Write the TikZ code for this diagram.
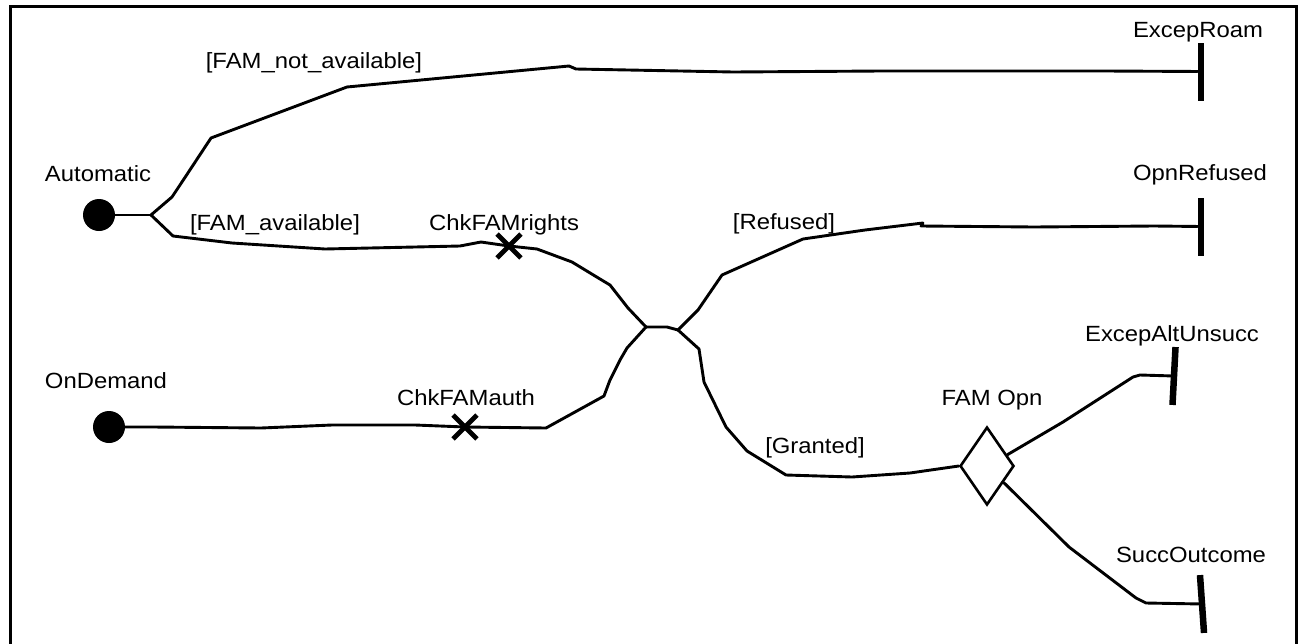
\documentclass[tikz,border=0pt]{standalone}
\usepackage{fontspec}
\setmainfont{Liberation Sans}
\usetikzlibrary{shapes.geometric,shapes.misc,calc}

\begin{document}
\begin{tikzpicture}[x=1pt,y=-1pt,
  ucm/.style={line width=2.9pt,line join=round,line cap=round},
  frame/.style={line width=3pt},
  lbl/.style={anchor=base,inner sep=0pt,font=\fontsize{22}{26}\selectfont,xscale=1.085},
  startpt/.style={circle,fill=black,minimum size=32pt,inner sep=0pt},
  endbar/.style={rectangle,fill=black,minimum width=6.5pt,minimum height=58pt,inner sep=0pt},
  resp/.style={cross out,draw,line width=4.8pt,minimum size=19pt,inner sep=0pt},
  stub/.style={diamond,draw,line width=2.6pt,minimum width=54pt,minimum height=78pt,inner sep=0pt}]

\useasboundingbox (0,0) rectangle (1298,643);

% outer frame
\draw[frame] (10,660) -- (10,6) -- (1296,6) -- (1296,660);

% start points
\node[startpt] (auto) at (99,215) {};
\node[startpt] (ondem) at (109,427) {};

% responsibilities
\node[resp] (rights) at (509,246) {};
\node[resp] (auth) at (465,427) {};

% stub
\node[stub] (fam) at (987,466) {};

% end points
\node[endbar] (roam) at (1201,71.5) {};
\node[endbar] (refused) at (1201,226.5) {};
\node[endbar,rotate=-3] (altuns) at (1174,376) {};
\node[endbar,rotate=4] (succ) at (1202,604) {};

% forks and joins
\coordinate (forkA) at (151,215);
\coordinate (joinL) at (646,327);
\coordinate (joinR) at (678,330);

% labels
\node[lbl] (lauto) at (98,181) {Automatic};
\node[lbl] (londem) at (106,388) {OnDemand};
\node[lbl] (lnotav) at (314,68) {[FAM\_not\_available]};
\node[lbl] (lav) at (275,230) {[FAM\_available]};
\node[lbl] (lrights) at (504,230) {ChkFAMrights};
\node[lbl] (lauth) at (466,405) {ChkFAMauth};
\node[lbl] (lroam) at (1198,37) {ExcepRoam};
\node[lbl] (lrefused) at (1200,180) {OpnRefused};
\node[lbl] (lref) at (784,229) {[Refused]};
\node[lbl] (lgrant) at (815,453) {[Granted]};
\node[lbl] (lfam) at (992,405) {FAM Opn};
\node[lbl] (laltuns) at (1172,341) {ExcepAltUnsucc};
\node[lbl] (lsucc) at (1191,562) {SuccOutcome};

% paths
\draw[ucm] (auto) -- (forkA);
\draw[ucm] (forkA) -- (172,197) -- (180,185) -- (211,138) -- (347,87)
  -- (569,66) -- (576,69) -- (733,72) -- (881,71) -- (1105,71) -- (roam);
\draw[ucm] (forkA) -- (173,236) -- (232,243) -- (325,249) -- (460,246)
  -- (481,242) -- (rights.center) -- (537,249) -- (572,262) -- (600,279)
  -- (610,285) -- (628,308) -- (joinL);
\draw[ucm] (ondem) -- (153,427) -- (261,428) -- (332,425) -- (415,425)
  -- (auth.center) -- (546,428) -- (604,396) -- (610,380) -- (620,360)
  -- (627,348) -- (joinL);
\draw[ucm] (joinL) -- (667,327) -- (joinR);
\draw[ucm] (joinR) -- (698,310) -- (722,275) -- (803,239) -- (865,230)
  -- (923,223) -- (921,226) -- (1034,227) -- (1154,226) -- (refused);
\draw[ucm] (joinR) -- (699,349) -- (704,382) -- (726,427) -- (747,451)
  -- (786,475) -- (852,477) -- (910,473) -- (fam.west);
\draw[ucm] ($(fam.east)!0.28!(fam.north)$) -- (1063,422) -- (1133,377)
  -- (1140,375) -- (altuns);
\draw[ucm] ($(fam.east)!0.41!(fam.south)$) -- (1069,547) -- (1136,598)
  -- (1146,603) -- (succ);

\end{tikzpicture}
\end{document}
